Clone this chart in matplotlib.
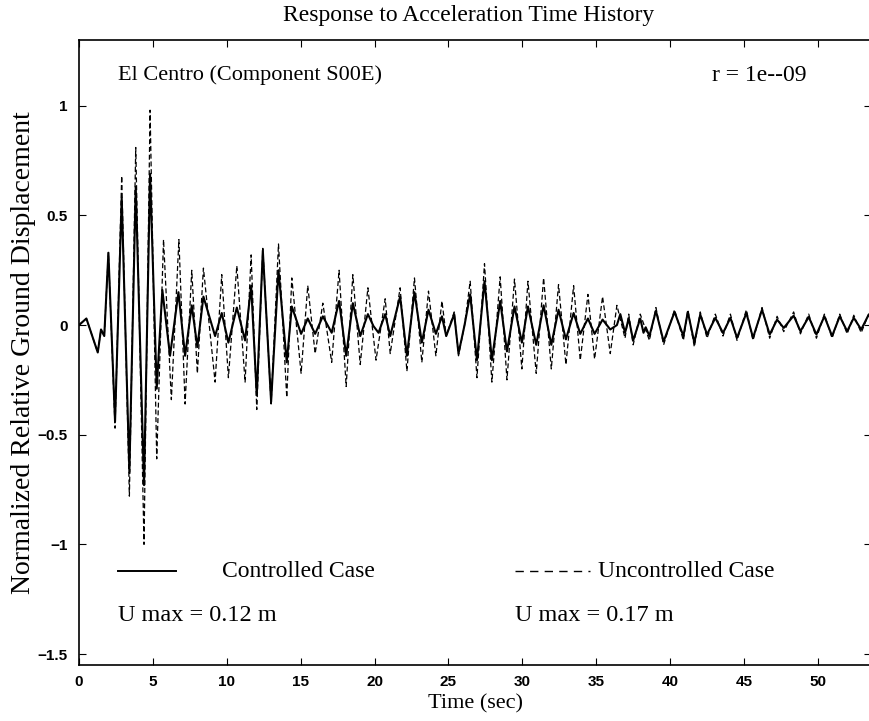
import matplotlib
matplotlib.use("Agg")
import matplotlib.pyplot as plt

# response extrema read from the El Centro run (time in s, normalized displacement)
t_ctrl = [0.0, 0.5, 1.27, 1.49, 1.71, 1.99, 2.44, 2.89, 3.41, 3.84, 4.40, 4.81,
          5.26, 5.64, 6.16, 6.73, 7.18, 7.63, 8.01, 8.42, 9.21, 9.66, 10.11, 10.68,
          11.24, 11.65, 12.03, 12.44, 13.0, 13.5, 14.06, 14.4, 15.03, 15.48, 15.98,
          16.5, 17.1, 17.6, 18.08, 18.53, 19.03, 19.55, 19.93, 20.27, 20.72, 21.06,
          21.73, 22.19, 22.7, 23.2, 23.65, 24.15, 24.56, 24.85, 25.39, 25.68, 26.09,
          26.47, 26.93, 27.44, 27.94, 28.5, 28.96, 29.47, 29.97, 30.38, 30.94, 31.44,
          31.96, 32.45, 32.95, 33.47, 33.92, 34.44, 34.89, 35.43, 35.95, 36.4, 36.63,
          36.95, 37.2, 37.5, 37.98, 38.2, 38.35, 38.6, 39.04, 39.56, 40.3, 40.9, 41.2,
          41.64, 42.04, 42.5, 43.06, 43.58, 44.08, 44.53, 45.16, 45.61, 46.22, 46.74,
          47.24, 47.69, 48.36, 48.82, 49.38, 49.9, 50.44, 50.96, 51.48, 51.98, 52.43,
          52.93, 53.44, 53.7]
u_ctrl = [0.0, 0.03, -0.125, -0.02, -0.05, 0.33, -0.44, 0.58, -0.67, 0.63, -0.73, 0.69,
          -0.29, 0.16, -0.14, 0.15, -0.14, 0.09, -0.10, 0.13, -0.05, 0.055, -0.08, 0.08,
          -0.07, 0.18, -0.32, 0.34, -0.35, 0.25, -0.17, 0.085, -0.04, 0.03, -0.04,
          0.04, -0.035, 0.11, -0.14, 0.10, -0.05, 0.05, -0.005, -0.035, 0.05, -0.05,
          0.13, -0.14, 0.15, -0.08, 0.07, -0.04, 0.04, -0.05, 0.05, -0.13, 0.0,
          0.14, -0.16, 0.2, -0.16, 0.11, -0.12, 0.085, -0.08, 0.085, -0.09, 0.09,
          -0.09, 0.07, -0.065, 0.055, -0.04, 0.03, -0.04, 0.025, -0.02, 0.0, 0.05,
          -0.035, 0.03, -0.07, 0.03, -0.035, -0.01, -0.05, 0.065, -0.075, 0.06, -0.05, 0.06,
          -0.08, 0.048, -0.043, 0.033, -0.036, 0.033, -0.058, 0.055, -0.058, 0.07, -0.043,
          0.025, -0.013, 0.043, -0.028, 0.037, -0.043, 0.04, -0.05, 0.04, -0.028, 0.033,
          -0.02, 0.048, 0.02]

t_unc = [0.0, 0.5, 1.27, 1.49, 1.71, 1.99, 2.44, 2.89, 3.41, 3.84, 4.40, 4.81,
         5.26, 5.72, 6.25, 6.76, 7.18, 7.63, 8.01, 8.42, 9.21, 9.66, 10.11, 10.68,
         11.24, 11.65, 12.03, 12.44, 13.0, 13.5, 14.06, 14.4, 15.03, 15.48, 15.98,
         16.5, 17.1, 17.6, 18.08, 18.53, 19.03, 19.55, 20.1, 20.72, 21.06,
         21.73, 22.19, 22.7, 23.2, 23.65, 24.15, 24.56, 24.85, 25.39, 25.68, 26.09,
         26.47, 26.93, 27.44, 27.94, 28.5, 28.96, 29.47, 29.97, 30.38, 30.94, 31.44,
         31.96, 32.45, 32.95, 33.47, 33.92, 34.44, 34.89, 35.43, 35.95, 36.4,
         36.95, 37.2, 37.5, 37.98, 38.6, 39.04, 39.56, 40.3, 40.9, 41.2,
         41.64, 42.04, 42.5, 43.06, 43.58, 44.08, 44.53, 45.16, 45.61, 46.22, 46.74,
         47.24, 47.69, 48.36, 48.82, 49.38, 49.9, 50.44, 50.96, 51.48, 51.98, 52.43,
         52.93, 53.44, 53.7]
u_unc = [0.0, 0.03, -0.125, -0.02, -0.05, 0.33, -0.47, 0.68, -0.78, 0.81, -1.0, 0.98,
         -0.61, 0.39, -0.34, 0.39, -0.36, 0.25, -0.22, 0.26, -0.26, 0.23, -0.24, 0.27,
         -0.26, 0.32, -0.385, 0.35, -0.36, 0.37, -0.33, 0.215, -0.22, 0.18, -0.13,
         0.10, -0.17, 0.25, -0.28, 0.23, -0.18, 0.17, -0.16, 0.12, -0.13,
         0.17, -0.21, 0.215, -0.17, 0.155, -0.14, 0.11, -0.05, 0.06, -0.14, 0.0,
         0.2, -0.24, 0.28, -0.26, 0.22, -0.25, 0.21, -0.2, 0.2, -0.22, 0.215,
         -0.2, 0.185, -0.18, 0.18, -0.16, 0.14, -0.155, 0.13, -0.13, 0.09,
         -0.06, 0.05, -0.09, 0.05, -0.07, 0.08, -0.09, 0.07, -0.07, 0.07,
         -0.1, 0.06, -0.06, 0.05, -0.05, 0.05, -0.07, 0.07, -0.07, 0.08, -0.06,
         0.04, -0.03, 0.06, -0.04, 0.05, -0.06, 0.05, -0.06, 0.05, -0.04, 0.045,
         -0.035, 0.05, 0.02]

x_ticks = [0, 5, 10, 15, 20, 25, 30, 35, 40, 45, 50]
y_ticks = [-1.5, -1, -0.5, 0, 0.5, 1]
y_tick_labels = ["\u22121.5", "\u22121", "\u22120.5", "0", "0.5", "1"]

serif = "Liberation Serif"
sans = "Liberation Sans"

fig = plt.figure(figsize=(8.69, 7.21), dpi=100)
ax = fig.add_axes([0.0909, 0.0777, 0.9115, 0.8668])

ax.plot(t_unc, u_unc, color="black", lw=0.9, dashes=(4, 2.2))
ax.plot(t_ctrl, u_ctrl, color="black", lw=1.5, solid_joinstyle="round")

ax.set_xlim(0, 53.6)
ax.set_ylim(-1.55, 1.3)
ax.set_xticks(x_ticks)
ax.set_yticks(y_ticks)
ax.set_yticklabels(y_tick_labels)
ax.tick_params(direction="in", length=5, width=0.8, top=True, right=True,
               labelsize=11)
ax.tick_params(axis="x", pad=7)
ax.tick_params(axis="y", pad=8)
for lab in ax.get_xticklabels() + ax.get_yticklabels():
    lab.set_fontfamily(sans)
    lab.set_fontweight("bold")
for sp in ax.spines.values():
    sp.set_linewidth(1.2)

fig.text(0.5397, 0.979, "Response to Acceleration Time History",
         fontfamily=serif, fontsize=17, ha="center", va="center")
ax.set_xlabel("Time (sec)", fontfamily=serif, fontsize=16, labelpad=4)
ax.set_ylabel("Normalized Relative Ground Displacement", fontfamily=serif,
              fontsize=20, labelpad=1)

txt = dict(fontfamily=serif, fontsize=16, va="center", ha="left")
ax.text(2.64, 1.14, "El Centro (Component S00E)", **txt)
ax.text(42.86, 1.14, "r = 1e--09", **dict(txt, fontsize=17))

# legend swatches and peak displacement notes
leg = dict(txt, fontsize=17)
note = dict(txt, fontsize=17.5)
ax.plot([2.66, 6.57], [-1.12, -1.12], color="black", lw=1.4)
ax.text(9.68, -1.125, "Controlled Case", **leg)
ax.plot([29.52, 34.6], [-1.12, -1.12], color="black", lw=1.0, dashes=(6, 4.5))
ax.text(35.14, -1.125, "Uncontrolled Case", **leg)
ax.text(2.64, -1.325, "U max = 0.12 m", **note)
ax.text(29.52, -1.325, "U max = 0.17 m", **note)

fig.savefig("out.png", dpi=100)
